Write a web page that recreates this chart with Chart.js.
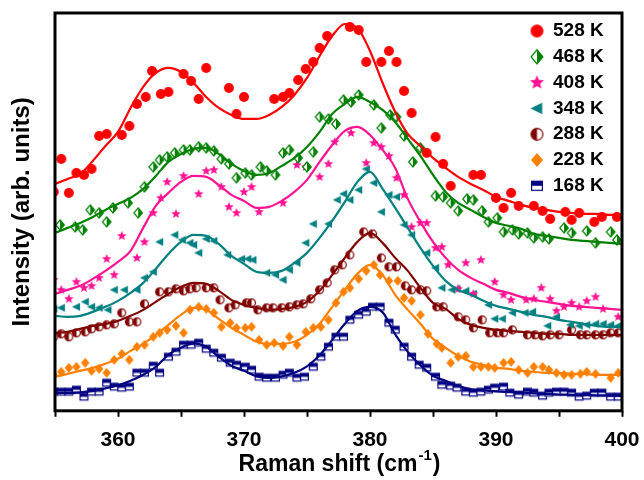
<!DOCTYPE html>
<html>
<head>
<meta charset="utf-8">
<title>Raman spectra vs temperature</title>
<script src="https://cdn.jsdelivr.net/npm/chart.js@4.4.1/dist/chart.umd.min.js"></script>
<style>
  html, body { margin: 0; padding: 0; background: #fff; }
  #wrap { width: 644px; height: 480px; }
</style>
</head>
<body>
<div id="wrap"><canvas id="raman" width="644" height="480"></canvas></div>
<script>
// ---- data ------------------------------------------------------------
const temps = ["528 K", "468 K", "408 K", "348 K", "288 K", "228 K", "168 K"];
const xTickLabels = [360, 370, 380, 390, 400];

// fitted curves, sampled every 1 cm-1
const fitX = [355, 356, 357, 358, 359, 360, 361, 362, 363, 364, 365, 366, 367, 368, 369, 370,
  371, 372, 373, 374, 375, 376, 377, 378, 379, 380, 381, 382, 383, 384, 385, 386, 387, 388,
  389, 390, 391, 392, 393, 394, 395, 396, 397, 398, 399, 400];
const fit528 = [227, 232, 237, 250, 265, 279, 303, 324, 338, 343, 339, 328, 314, 303, 296, 292,
  292, 296, 304, 316, 333, 355, 375, 387, 383, 360, 328, 299, 277, 265, 253, 243, 234, 227,
  221, 214, 210, 206, 203, 201, 199, 198, 197, 197, 196, 196];
const fit468 = [178, 183, 188, 194, 201, 207, 213, 222, 235, 249, 257, 262, 263, 257, 247, 240,
  236, 238, 245, 253, 264, 279, 297, 307, 314, 309, 301, 289, 272, 255, 236, 219, 208, 201,
  194, 188, 185, 182, 177, 175, 173, 171, 170, 169, 168, 167];
const fit408 = [117, 121, 125, 132, 140, 149, 160, 183, 205, 218, 229, 235, 234, 226, 216, 210,
  203, 204, 210, 219, 231, 249, 266, 280, 284, 276, 261, 243, 212, 189, 169, 153, 141, 133,
  127, 121, 118, 114, 111, 109, 107, 105, 104, 103, 102, 101];
const fit348 = [95, 94, 95, 99, 104, 110, 118, 128, 142, 157, 169, 176, 175, 167, 155, 147,
  139, 138, 140, 148, 158, 173, 190, 209, 229, 239, 222, 203, 183, 163, 145, 130, 121, 116,
  110, 105, 102, 99, 96, 94, 91, 89, 87, 85, 84, 84];
const fit288 = [78, 79, 82, 85, 87, 90, 95, 101, 109, 117, 124, 128, 127, 120, 111, 106,
  103, 101, 102, 104, 109, 120, 136, 153, 169, 178, 168, 153, 140, 123, 108, 102, 92, 86,
  83, 81, 80, 79, 78, 77, 77, 76, 76, 76, 76, 76];
const fit228 = [34, 37, 40, 43, 47, 52, 60, 67, 76, 86, 96, 103, 101, 92, 83, 76,
  69, 67, 67, 69, 76, 87, 104, 121, 137, 146, 136, 116, 101, 87, 72, 63, 55, 49,
  46, 43, 42, 40, 39, 38, 38, 37, 37, 36, 36, 36];
const fit168 = [18, 18, 18.5, 20, 22.5, 25.5, 30, 36, 44, 56, 63, 67.5, 64, 54, 45, 40,
  34.5, 33, 34.5, 38, 44.5, 55.5, 71, 87, 100, 104, 98.5, 76.5, 59, 45.5, 35, 30, 25, 21.5,
  20.3, 19.4, 18.8, 18.2, 17.5, 17, 16.3, 16, 15.7, 15.5, 15.2, 15];

// measured spectra
const x528 = [354.9, 355.5, 356.1, 356.7, 357.3, 357.9, 358.5, 359.1, 360.3, 360.9, 361.5, 362.2,
  362.7, 363.4, 364.0, 365.2, 365.8, 366.4, 367.0, 368.8, 369.4, 370.0, 372.4, 373.1, 373.6,
  374.3, 374.9, 375.5, 376.0, 376.6, 378.4, 379.1, 379.7, 380.9, 381.5, 382.1, 382.7, 383.3,
  384.5, 385.2, 385.8, 386.4, 388.2, 388.8, 390.0, 390.6, 391.2, 391.8, 393.0, 393.7, 394.3,
  395.5, 396.0, 396.6, 397.8, 398.4, 399.6];
const y528 = [219, 252, 218, 238, 236, 242, 275, 277, 276, 285, 307, 314, 340, 317, 319, 337,
  330, 312, 343, 323, 297, 314, 312, 314, 318, 331, 342, 349, 363, 375, 384, 381, 349, 349,
  360, 349, 320, 298, 258, 274, 247, 225, 236, 236, 213, 203, 218, 205, 205, 200, 192, 199,
  191, 198, 189, 194, 194];

const x468 = [355.4, 356.6, 357.2, 357.8, 358.5, 359.1, 359.6, 360.8, 361.6, 362.1, 362.8, 363.3,
  363.9, 364.5, 365.2, 365.7, 366.4, 367.0, 367.6, 368.2, 368.8, 369.4, 370.1, 370.6, 371.3,
  371.8, 372.5, 373.1, 373.6, 374.3, 375.0, 375.5, 376.0, 376.7, 377.3, 377.9, 378.5, 379.1,
  380.3, 380.9, 381.6, 382.1, 382.7, 383.4, 384.0, 385.2, 385.8, 386.4, 387.0, 387.7, 388.2,
  388.9, 389.4, 390.1, 390.6, 391.3, 391.8, 392.5, 393.0, 393.7, 394.2, 395.4, 396.0, 397.2,
  397.9, 399.1, 399.6];
const y468 = [186, 184, 181, 201, 198, 189, 203, 208, 198, 224, 244, 251, 254, 258, 261, 261,
  264, 263, 260, 252, 247, 233, 238, 236, 244, 240, 236, 258, 261, 253, 244, 259, 294, 292,
  287, 311, 309, 316, 306, 283, 296, 294, 275, 249, 263, 215, 214, 208, 200, 212, 211, 200,
  189, 193, 179, 181, 177, 178, 173, 174, 172, 183, 178, 180, 168, 179, 171];

const x408 = [354.9, 355.5, 356.1, 356.7, 357.3, 357.9, 358.5, 359.1, 359.7, 360.3, 361.5, 362.1,
  362.8, 363.4, 363.9, 364.6, 365.2, 366.4, 367.0, 367.6, 368.2, 368.8, 369.4, 370.0, 370.6,
  371.2, 373.1, 374.2, 374.9, 376.0, 376.7, 377.2, 378.5, 379.7, 380.3, 380.9, 381.5, 382.1,
  382.7, 383.3, 384.0, 384.5, 385.2, 385.7, 386.2, 387.0, 387.6, 388.2, 388.8, 389.9, 390.6,
  391.2, 392.4, 393.0, 393.6, 394.3, 394.8, 395.4, 396.0, 396.6, 397.2, 397.9, 398.5, 399.7];
const y408 = [131, 121, 112, 129, 123, 125, 133, 152, 136, 175, 153, 169, 198, 213, 229, 197,
  235, 217, 240, 241, 224, 204, 198, 219, 224, 199, 208, 246, 244, 234, 247, 269, 278, 248,
  268, 264, 255, 233, 216, 184, 188, 188, 163, 164, 146, 122, 148, 117, 151, 129, 116, 111,
  111, 112, 123, 112, 100, 104, 108, 104, 110, 114, 102, 94];

const x348 = [354.9, 355.5, 356.7, 357.4, 357.9, 358.5, 359.2, 359.7, 360.5, 361.5, 362.1, 362.8,
  363.3, 364.5, 365.1, 365.7, 366.0, 366.4, 367.0, 367.6, 368.7, 369.8, 370.3, 370.7, 371.8,
  372.5, 373.1, 373.6, 374.2, 374.9, 375.5, 376.7, 377.4, 377.9, 378.4, 379.1, 379.7, 380.3,
  380.9, 381.5, 382.1, 382.7, 383.3, 384.5, 385.2, 385.7, 386.5, 386.9, 387.6, 388.2, 389.4,
  389.9, 390.5, 391.3, 392.3, 392.9, 394.1, 394.8, 395.9, 396.6, 397.2, 397.9, 398.5, 399.1,
  399.7];
const y348 = [102, 103, 104, 109, 104, 103, 101, 121, 121, 121, 133, 139, 169, 176, 171, 168,
  166, 158, 172, 170, 156, 152, 152, 151, 138, 136, 131, 141, 148, 168, 187, 187, 211, 217,
  211, 221, 242, 228, 199, 216, 214, 186, 176, 158, 143, 123, 121, 122, 120, 117, 106, 92,
  92, 98, 98, 99, 85, 94, 86, 85, 86, 87, 87, 86, 85];

const x288 = [354.9, 355.5, 356.1, 356.7, 357.4, 357.9, 358.5, 359.1, 359.7, 360.3, 360.9, 361.5,
  362.1, 363.3, 364.0, 364.6, 365.2, 365.7, 366.2, 367.0, 367.6, 368.1, 368.8, 369.3, 370.2,
  370.6, 371.1, 371.8, 372.3, 373.0, 373.6, 374.2, 374.7, 375.3, 376.0, 376.6, 377.2, 377.8,
  378.4, 379.5, 380.2, 380.9, 381.5, 382.1, 382.8, 383.3, 384.0, 384.5, 385.3, 385.8, 387.0,
  387.6, 388.2, 388.9, 389.5, 390.1, 390.6, 391.3, 392.5, 393.1, 393.7, 394.3, 395.0, 396.0,
  396.7, 397.2, 397.9, 398.5, 399.1, 399.7];
const y288 = [74, 77, 74, 78, 79, 82, 84, 86, 87, 98, 89, 89, 107, 119, 119, 122, 120, 122,
  123, 123, 123, 111, 103, 106, 108, 108, 101, 103, 103, 103, 104, 106, 107, 112, 121, 128,
  141, 146, 156, 179, 177, 153, 144, 144, 125, 121, 121, 120, 104, 104, 94, 91, 83, 91, 78,
  78, 78, 81, 76, 76, 75, 76, 76, 81, 76, 76, 76, 76, 78, 78];

const x228 = [354.9, 355.5, 356.1, 356.7, 357.4, 357.9, 358.5, 359.1, 359.7, 360.3, 360.9, 361.5,
  362.1, 362.8, 363.3, 363.9, 364.6, 365.2, 365.7, 366.4, 367.0, 367.6, 368.2, 368.9, 369.4,
  370.1, 370.6, 371.2, 371.8, 372.4, 373.1, 373.6, 374.2, 374.9, 375.5, 376.1, 376.7, 377.3,
  377.9, 378.4, 379.1, 379.7, 380.3, 380.8, 381.5, 382.2, 382.7, 383.3, 384.0, 384.6, 385.3,
  385.7, 386.4, 387.0, 387.6, 388.2, 388.8, 389.4, 389.9, 390.6, 391.2, 391.8, 392.5, 393.0,
  393.7, 394.2, 394.8, 395.4, 396.0, 396.7, 397.2, 397.9, 399.1, 399.7];
const y228 = [36, 39, 43, 44, 48, 40, 42, 38, 51, 57, 51, 64, 66, 74, 78, 81, 85, 78, 101, 104,
  102, 98, 84, 88, 83, 83, 84, 71, 66, 68, 65, 74, 66, 79, 83, 84, 91, 108, 119, 123, 132,
  140, 146, 136, 130, 130, 113, 110, 96, 77, 67, 63, 48, 54, 55, 44, 44, 44, 43, 48, 49, 41,
  38, 44, 44, 41, 38, 36, 36, 37, 39, 37, 33, 38];

const x168 = [354.9, 355.5, 356.1, 356.7, 357.3, 357.9, 358.5, 359.1, 359.7, 360.3, 360.9, 361.5,
  362.1, 362.8, 363.3, 364.0, 364.6, 365.2, 365.8, 366.4, 367.0, 367.6, 368.2, 368.9, 369.4,
  370.1, 370.6, 371.2, 371.8, 372.5, 373.1, 373.6, 374.2, 374.8, 375.5, 376.1, 376.7, 377.3,
  377.9, 378.4, 379.1, 379.7, 380.2, 380.8, 381.5, 382.0, 382.7, 383.3, 383.9, 384.5, 385.2,
  385.7, 386.4, 386.9, 387.6, 388.2, 388.8, 389.4, 389.9, 390.6, 391.1, 391.8, 392.5, 393.0,
  393.7, 394.2, 394.8, 395.4, 396.0, 396.6, 397.2, 397.8, 398.4, 399.1, 399.7];
const y168 = [19, 19, 19, 21, 14, 19, 19, 28, 24, 23, 24, 38, 38, 45, 38, 54, 59, 66, 66, 68,
  62, 58, 53, 48, 46, 44, 41, 34, 33, 33, 36, 38, 33, 34, 44, 54, 64, 74, 74, 91, 96, 99,
  104, 104, 88, 81, 64, 54, 46, 43, 34, 26, 25, 23, 19, 18, 19, 21, 23, 24, 18, 16, 19, 18,
  15, 18, 19, 19, 18, 14, 15, 18, 18, 14, 14];

// ---- styling ---------------------------------------------------------
const FONT = 'Arial, "Liberation Sans", Helvetica, sans-serif';
Chart.defaults.font.family = FONT;
Chart.defaults.color = "#000";

// marker sprites (Chart.js has no half-filled symbols, so draw them)
function makeMark(kind, color, size) {
  const dim = Math.ceil(size) + 4;
  const cv = document.createElement("canvas");
  cv.width = dim;
  cv.height = dim;
  const g = cv.getContext("2d");
  const c = dim / 2, r = size / 2;
  g.fillStyle = color;
  g.strokeStyle = color;
  g.lineWidth = 1.2;

  const poly = pts => {
    g.beginPath();
    pts.forEach(([px, py], i) => (i ? g.lineTo(c + px, c + py) : g.moveTo(c + px, c + py)));
    g.closePath();
  };
  const diamond = [[0, -r], [r * 0.85, 0], [0, r], [-r * 0.85, 0]];

  if (kind === "circle") {
    g.beginPath();
    g.arc(c, c, r, 0, Math.PI * 2);
    g.fill();
  } else if (kind === "diamond") {
    poly(diamond);
    g.fill();
  } else if (kind === "halfDiamond") {
    poly(diamond);
    g.fillStyle = "#fff";
    g.fill();
    g.fillStyle = color;
    poly([[0, -r], [r * 0.85, 0], [0, r]]);
    g.fill();
    poly(diamond);
    g.stroke();
  } else if (kind === "star") {
    const pts = [];
    for (let i = 0; i < 10; i++) {
      const a = -Math.PI / 2 + i * Math.PI / 5;
      const rr = i % 2 ? r * 0.45 : r;
      pts.push([Math.cos(a) * rr, Math.sin(a) * rr]);
    }
    poly(pts);
    g.fill();
  } else if (kind === "triLeft") {
    poly([[-r, 0], [r * 0.8, -r * 0.9], [r * 0.8, r * 0.9]]);
    g.fill();
  } else if (kind === "halfCircle") {
    g.beginPath();
    g.arc(c, c, r - 0.6, 0, Math.PI * 2);
    g.fillStyle = "#fff";
    g.fill();
    g.fillStyle = color;
    g.beginPath();
    g.arc(c, c, r - 0.6, Math.PI / 2, Math.PI * 1.5);
    g.closePath();
    g.fill();
    g.beginPath();
    g.arc(c, c, r - 0.6, 0, Math.PI * 2);
    g.stroke();
  } else if (kind === "halfSquare") {
    const h = r * 0.85;
    g.fillStyle = "#fff";
    g.fillRect(c - r, c - h, 2 * r, 2 * h);
    g.fillStyle = color;
    g.fillRect(c - r, c - h, 2 * r, h);
    g.strokeRect(c - r + 0.6, c - h + 0.6, 2 * r - 1.2, 2 * h - 1.2);
  }
  return cv;
}

const series = [
  { fit: fit528, xs: x528, ys: y528, color: "#ff0000", kind: "circle", size: 10, legSize: 13 },
  { fit: fit468, xs: x468, ys: y468, color: "#008000", kind: "halfDiamond", size: 10, legSize: 14 },
  { fit: fit408, xs: x408, ys: y408, color: "#ff1493", kind: "star", size: 10, legSize: 15 },
  { fit: fit348, xs: x348, ys: y348, color: "#008080", kind: "triLeft", size: 9, legSize: 13 },
  { fit: fit288, xs: x288, ys: y288, color: "#800000", kind: "halfCircle", size: 9, legSize: 13 },
  { fit: fit228, xs: x228, ys: y228, color: "#ff8000", kind: "diamond", size: 10, legSize: 14 },
  { fit: fit168, xs: x168, ys: y168, color: "#000080", kind: "halfSquare", size: 9, legSize: 12 }
];

const legendMarks = series.map(s => makeMark(s.kind, s.color, s.legSize));

// fitted lines first so they paint on top of the measured points
const datasets = [];
series.forEach((s, i) => {
  datasets.push({
    type: "line",
    label: temps[i] + " fit",
    data: fitX.map((x, k) => ({ x, y: s.fit[k] })),
    borderColor: s.color,
    borderWidth: 2.2,
    pointRadius: 0,
    fill: false,
    cubicInterpolationMode: "monotone"
  });
});
series.forEach((s, i) => {
  datasets.push({
    type: "scatter",
    label: temps[i],
    data: s.xs.map((x, k) => ({ x, y: s.ys[k] })),
    pointStyle: makeMark(s.kind, s.color, s.size),
    pointRadius: 5,
    showLine: false
  });
});

// frame, legend and x-axis title with superscript
const extras = {
  id: "extras",
  afterDraw(chart) {
    const { ctx, chartArea: a } = chart;
    ctx.save();
    ctx.strokeStyle = "#000";
    ctx.lineWidth = 3;
    ctx.strokeRect(a.left, a.top, a.right - a.left, a.bottom - a.top);

    ctx.fillStyle = "#000";
    ctx.textBaseline = "middle";
    ctx.textAlign = "left";
    ctx.font = "bold 19px " + FONT;
    temps.forEach((t, i) => {
      const y = a.top + 18 + i * 25.8;
      const m = legendMarks[i];
      ctx.drawImage(m, a.right - 85 - m.width / 2, y - m.height / 2);
      ctx.fillText(t, a.right - 69, y);
    });

    const main = "Raman shift (cm", sup = "-1", close = ")";
    ctx.textBaseline = "alphabetic";
    ctx.font = "bold 23px " + FONT;
    const w1 = ctx.measureText(main).width;
    const w3 = ctx.measureText(close).width;
    ctx.font = "bold 15px " + FONT;
    const w2 = ctx.measureText(sup).width;
    const base = 471;
    let x = (a.left + a.right) / 2 - (w1 + w2 + w3) / 2;
    ctx.font = "bold 23px " + FONT;
    ctx.fillText(main, x, base);
    x += w1;
    ctx.font = "bold 15px " + FONT;
    ctx.fillText(sup, x + 1, base - 11);
    x += w2 + 2;
    ctx.font = "bold 23px " + FONT;
    ctx.fillText(close, x, base);
    ctx.restore();
  }
};

new Chart(document.getElementById("raman"), {
  data: { datasets },
  options: {
    responsive: false,
    animation: false,
    devicePixelRatio: 1,
    layout: { padding: { left: 4, top: 13, right: 22, bottom: 16 } },
    plugins: { legend: { display: false }, tooltip: { enabled: false } },
    scales: {
      x: {
        type: "linear",
        min: 355,
        max: 400,
        border: { display: false },
        grid: { display: true, drawOnChartArea: false, drawTicks: true, tickLength: 6, tickWidth: 2, tickColor: "#000" },
        ticks: {
          stepSize: 5,
          padding: 11,
          font: { size: 21, weight: "bold" },
          color: "#000",
          callback: v => (xTickLabels.includes(v) ? String(v) : "")
        },
        // the "400" label may hang past the frame; keep the plot edge fixed
        afterFit: scale => {
          scale.paddingLeft = 0;
          scale.paddingRight = 0;
        }
      },
      y: {
        type: "linear",
        min: 0,
        max: 398,
        border: { display: false },
        grid: { display: false, drawTicks: false },
        ticks: { display: false },
        title: {
          display: true,
          text: "Intensity (arb. units)",
          font: { size: 24, weight: "bold" },
          color: "#000",
          padding: { top: 3.6, bottom: 18.6 }
        }
      }
    }
  },
  plugins: [extras]
});
</script>
</body>
</html>
